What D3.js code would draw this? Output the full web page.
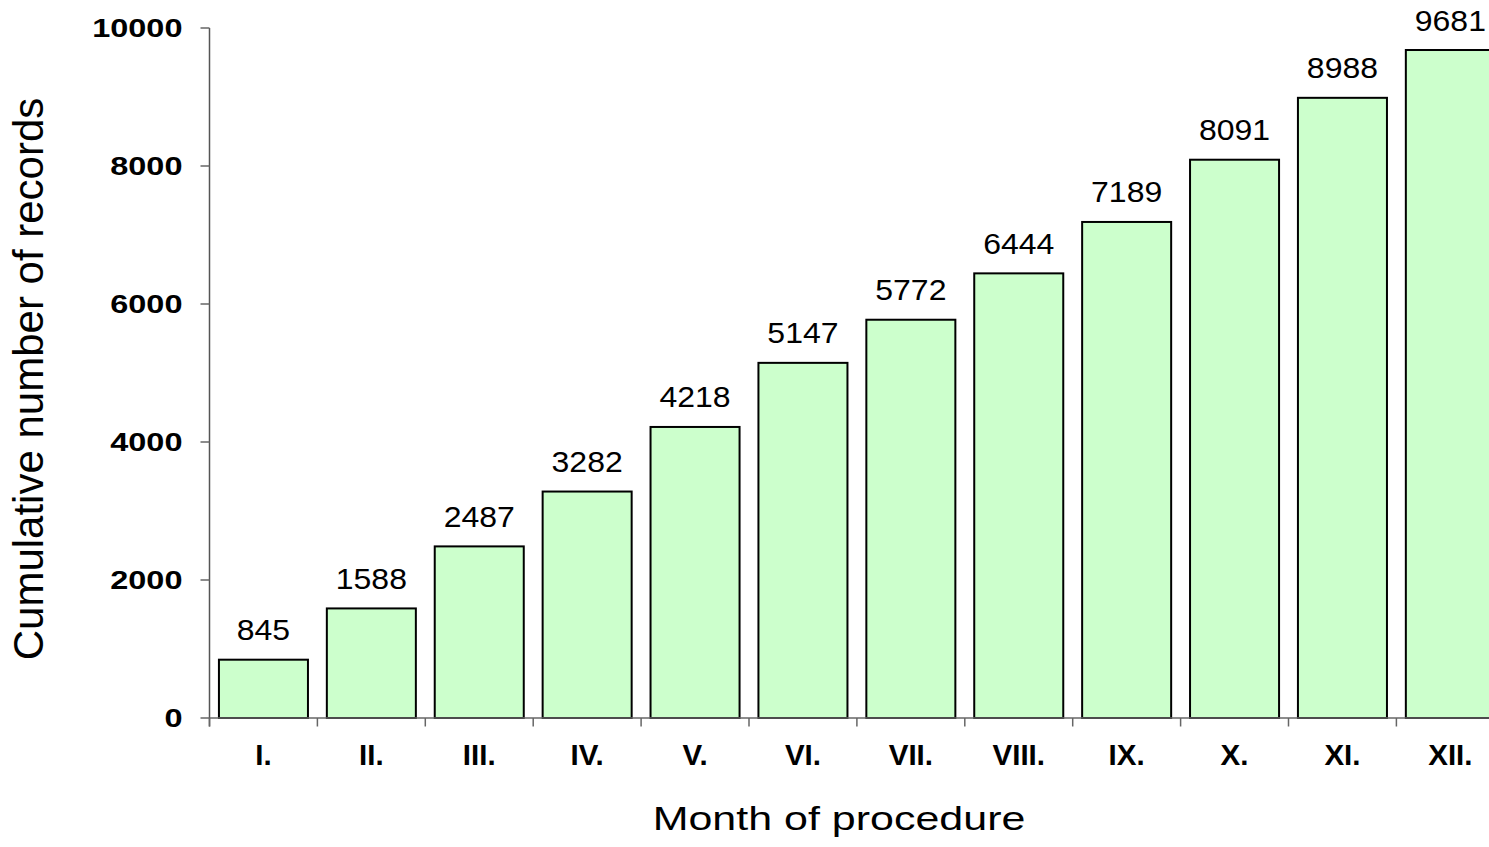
<!DOCTYPE html>
<html>
<head>
<meta charset="utf-8">
<script src="https://cdn.jsdelivr.net/npm/d3@7"></script>
<style>
  html, body { margin: 0; padding: 0; background: #fff; overflow: hidden; }
  svg { display: block; font-family: Arial, "Liberation Sans", Helvetica, sans-serif; }
</style>
</head>
<body>
<svg id="chart"></svg>
<script>
// Data
const months = ["I.", "II.", "III.", "IV.", "V.", "VI.", "VII.", "VIII.", "IX.", "X.", "XI.", "XII."];
const records = [845, 1588, 2487, 3282, 4218, 5147, 5772, 6444, 7189, 8091, 8988, 9681];
const yTicks = [0, 2000, 4000, 6000, 8000, 10000];

const width = 1489;
const height = 847;

const svg = d3.select("#chart")
    .attr("width", width)
    .attr("height", height);

// Scales
const x = d3.scaleBand()
    .domain(months)
    .range([209.5, 209.5 + 12 * 107.9])
    .paddingInner(0.175)
    .paddingOuter(0.0875);

const y = d3.scaleLinear()
    .domain([0, 10000])
    .range([718, 28]);

const step = x.step();
const x0 = x.range()[0];

// Bars
svg.append("g")
    .selectAll("rect")
    .data(records)
    .join("rect")
    .attr("x", (d, i) => x(months[i]))
    .attr("y", d => y(d))
    .attr("width", x.bandwidth())
    .attr("height", d => y(0) - y(d))
    .attr("fill", "#CCFFCC")
    .attr("stroke", "#000")
    .attr("stroke-width", 2);

// Value labels above bars
svg.append("g")
    .selectAll("text")
    .data(records)
    .join("text")
    .attr("transform", (d, i) => `translate(${x(months[i]) + x.bandwidth() / 2},${y(d) - 19.5}) scale(1,0.9)`)
    .attr("text-anchor", "middle")
    .attr("font-size", "32px")
    .attr("fill", "#000")
    .text(d => d);

// Y axis
const yAxis = svg.append("g");
yAxis.append("line")
    .attr("x1", x0).attr("x2", x0)
    .attr("y1", y(10000)).attr("y2", y(0) + 8.5)
    .attr("stroke", "#555")
    .attr("stroke-width", 1.5);
yAxis.selectAll("line.tick")
    .data(yTicks)
    .join("line")
    .attr("class", "tick")
    .attr("x1", x0 - 9).attr("x2", x0)
    .attr("y1", d => y(d)).attr("y2", d => y(d))
    .attr("stroke", "#666")
    .attr("stroke-width", 1.5);
yAxis.selectAll("text")
    .data(yTicks)
    .join("text")
    .attr("transform", d => `translate(${x0 - 27},${y(d) + 9}) scale(1,0.79)`)
    .attr("text-anchor", "end")
    .attr("font-size", "32.5px")
    .attr("font-weight", "bold")
    .attr("fill", "#000")
    .text(d => d);

// X axis (ticks on category boundaries)
const xAxis = svg.append("g");
xAxis.append("line")
    .attr("x1", x0).attr("x2", x.range()[1])
    .attr("y1", y(0)).attr("y2", y(0))
    .attr("stroke", "#666")
    .attr("stroke-width", 1.5);
xAxis.selectAll("line.tick")
    .data(d3.range(months.length + 1))
    .join("line")
    .attr("class", "tick")
    .attr("x1", i => x0 + i * step).attr("x2", i => x0 + i * step)
    .attr("y1", y(0)).attr("y2", y(0) + 8.5)
    .attr("stroke", "#666")
    .attr("stroke-width", 1.5);
xAxis.selectAll("text")
    .data(months)
    .join("text")
    .attr("x", d => x(d) + x.bandwidth() / 2)
    .attr("y", 764.5)
    .attr("text-anchor", "middle")
    .attr("font-size", "29.5px")
    .attr("font-weight", "bold")
    .attr("fill", "#000")
    .text(d => d);

// Axis titles
svg.append("text")
    .attr("transform", "translate(839,830) scale(1,0.77)")
    .attr("text-anchor", "middle")
    .attr("font-size", "43px")
    .attr("fill", "#000")
    .text("Month of procedure");

svg.append("text")
    .attr("transform", "translate(43,379) rotate(-90)")
    .attr("text-anchor", "middle")
    .attr("font-size", "42px")
    .attr("fill", "#000")
    .text("Cumulative number of records");
</script>
</body>
</html>
